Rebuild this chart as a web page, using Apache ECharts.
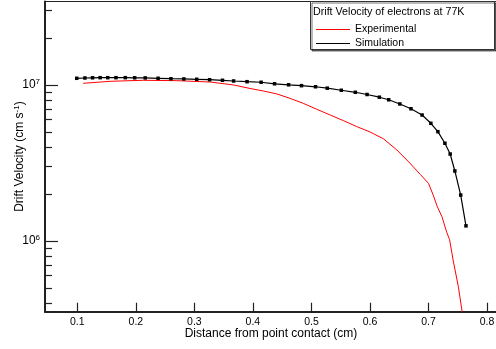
<!DOCTYPE html>
<html>
<head>
<meta charset="utf-8">
<script src="https://cdn.jsdelivr.net/npm/echarts@6/dist/echarts.min.js"></script>
<style>
  html, body { margin: 0; padding: 0; background: #fff; }
  #chart { width: 496px; height: 349px; }
</style>
</head>
<body>
<div id="chart"></div>
<script>
// Distance from the point contact (cm) and drift velocity (cm/s)
const simDistance = [0.099, 0.113, 0.126, 0.139, 0.152, 0.166, 0.182, 0.198, 0.216, 0.238,
  0.260, 0.282, 0.304, 0.326, 0.348, 0.367, 0.390, 0.414, 0.437, 0.461,
  0.483, 0.507, 0.527, 0.551, 0.575, 0.595, 0.616, 0.632, 0.651, 0.670,
  0.689, 0.704, 0.716, 0.728, 0.737, 0.745, 0.755, 0.764];
const simVelocity = [1.104e7, 1.109e7, 1.112e7, 1.114e7, 1.114e7, 1.114e7, 1.114e7, 1.112e7, 1.110e7, 1.104e7,
  1.097e7, 1.093e7, 1.088e7, 1.081e7, 1.072e7, 1.061e7, 1.050e7, 1.041e7, 1.018e7, 1.003e7,
  9.90e6, 9.74e6, 9.54e6, 9.25e6, 8.98e6, 8.69e6, 8.35e6, 8.04e6, 7.56e6, 7.04e6,
  6.42e6, 5.68e6, 5.02e6, 4.23e6, 3.61e6, 2.81e6, 1.97e6, 1.25e6];

const expDistance = [0.110, 0.156, 0.213, 0.270, 0.327, 0.367, 0.395, 0.418, 0.441, 0.463,
  0.486, 0.509, 0.532, 0.555, 0.577, 0.600, 0.623, 0.646, 0.668, 0.686,
  0.700, 0.708, 0.715, 0.723, 0.731, 0.736, 0.742, 0.751, 0.757, 0.760];
const expVelocity = [1.025e7, 1.056e7, 1.072e7, 1.066e7, 1.045e7, 1.000e7, 9.50e6, 9.15e6, 8.76e6, 8.22e6,
  7.63e6, 6.99e6, 6.42e6, 5.90e6, 5.42e6, 5.00e6, 4.52e6, 3.83e6, 3.16e6, 2.67e6,
  2.34e6, 1.97e6, 1.66e6, 1.43e6, 1.14e6, 1.02e6, 7.55e5, 5.09e5, 3.61e5, 3.0e5];

const xTickValues = [0.1, 0.2, 0.3, 0.4, 0.5, 0.6, 0.7, 0.8];
const yDecadeTicks = [1e6, 1e7];
const yMinorTicks = [4e5, 5e5, 6e5, 7e5, 8e5, 9e5,
  2e6, 3e6, 4e6, 5e6, 6e6, 7e6, 8e6, 9e6, 2e7, 3e7];

const seriesNames = ['Experimental', 'Simulation'];
const legendTitle = 'Drift Velocity of electrons at 77K';

const FONT = '"Liberation Sans", Arial, Helvetica, sans-serif';
const AXIS_COLOR = '#222';
const X_MIN = 0.0448, X_MAX = 0.8170;
const Y_MIN = 3.52e5, Y_MAX = 3.43e7;

const toPairs = (xs, ys) => xs.map((x, i) => [x, ys[i]]);

const chart = echarts.init(document.getElementById('chart'), null, { renderer: 'canvas' });

const baseY = {
  type: 'log',
  min: Y_MIN,
  max: Y_MAX,
  position: 'left',
  splitLine: { show: false },
  minorTick: { show: false }
};

chart.setOption({
  animation: false,
  backgroundColor: '#fff',
  textStyle: { fontFamily: FONT },
  grid: {
    left: 45, top: 1.5, width: 452, height: 310.2,
    outerBoundsMode: 'none',
    containLabel: false,
    show: true, borderColor: AXIS_COLOR, borderWidth: 1, backgroundColor: 'transparent'
  },
  xAxis: {
    type: 'value',
    min: X_MIN,
    max: X_MAX,
    name: 'Distance from point contact (cm)',
    nameLocation: 'middle',
    nameGap: 16,
    nameMoveOverlap: false,
    nameTextStyle: { fontSize: 12, color: '#000', fontFamily: FONT },
    axisLine: { show: true, lineStyle: { color: AXIS_COLOR, width: 2 } },
    axisTick: { show: true, inside: true, length: 9, customValues: xTickValues,
      lineStyle: { color: AXIS_COLOR, width: 1.2 } },
    axisLabel: { show: true, customValues: xTickValues, margin: 4.5, fontSize: 10.5, color: '#000',
      fontFamily: FONT, formatter: v => v.toFixed(1) },
    splitLine: { show: false }
  },
  yAxis: [
    Object.assign({}, baseY, {
      name: 'Drift Velocity (cm s{sup|-1})',
      nameLocation: 'middle',
      nameGap: 18,
      nameMoveOverlap: false,
      nameTextStyle: {
        fontSize: 12, color: '#000', fontFamily: FONT,
        rich: { sup: { fontSize: 8, color: '#000', fontFamily: FONT, padding: [0, 0, 6, 0] } }
      },
      axisLine: { show: true, lineStyle: { color: AXIS_COLOR, width: 2 } },
      axisTick: { show: true, inside: true, length: 13, customValues: yDecadeTicks,
        lineStyle: { color: AXIS_COLOR, width: 1.2 } },
      axisLabel: {
        show: true, customValues: yDecadeTicks, margin: 5, color: '#000',
        formatter: v => '{b|10}{s|' + Math.round(Math.log10(v)) + '}',
        rich: {
          b: { fontSize: 12, color: '#000', fontFamily: FONT },
          s: { fontSize: 8, color: '#000', fontFamily: FONT, padding: [0, 0, 7, 0] }
        }
      }
    }),
    Object.assign({}, baseY, {
      axisLine: { show: false },
      axisTick: { show: true, inside: true, length: 7, customValues: yMinorTicks,
        lineStyle: { color: AXIS_COLOR, width: 1.2 } },
      axisLabel: { show: false }
    })
  ],
  legend: {
    data: [
      { name: seriesNames[0], icon: 'rect', itemStyle: { color: '#ff0000' } },
      { name: seriesNames[1], icon: 'rect', itemStyle: { color: '#000' } }
    ],
    orient: 'vertical',
    left: 316,
    top: 24,
    itemWidth: 34,
    itemHeight: 1.2,
    itemGap: 3,
    padding: 0,
    textStyle: { fontSize: 10.5, color: '#000', fontFamily: FONT }
  },
  graphic: [
    {
      type: 'rect', z: 0,
      shape: { x: 310.5, y: 1.5, width: 184, height: 48 },
      style: { fill: '#fff', stroke: '#333', lineWidth: 1,
        shadowColor: 'rgba(0,0,0,0.55)', shadowOffsetX: 1.5, shadowOffsetY: 1.5, shadowBlur: 0 }
    },
    {
      type: 'text', z: 10, left: 313, top: 7,
      style: { text: legendTitle, fontSize: 10.7, fontFamily: FONT, fill: '#000' }
    }
  ],
  series: [
    {
      name: seriesNames[0],
      type: 'line',
      data: toPairs(expDistance, expVelocity),
      showSymbol: false,
      symbol: 'none',
      lineStyle: { color: '#ff0000', width: 1 },
      itemStyle: { color: '#ff0000' },
      clip: true,
      z: 2
    },
    {
      name: seriesNames[1],
      type: 'line',
      data: toPairs(simDistance, simVelocity),
      symbol: 'rect',
      symbolSize: 3.5,
      showAllSymbol: true,
      lineStyle: { color: '#000', width: 1.2 },
      itemStyle: { color: '#000' },
      clip: true,
      z: 3
    }
  ]
});
</script>
</body>
</html>
